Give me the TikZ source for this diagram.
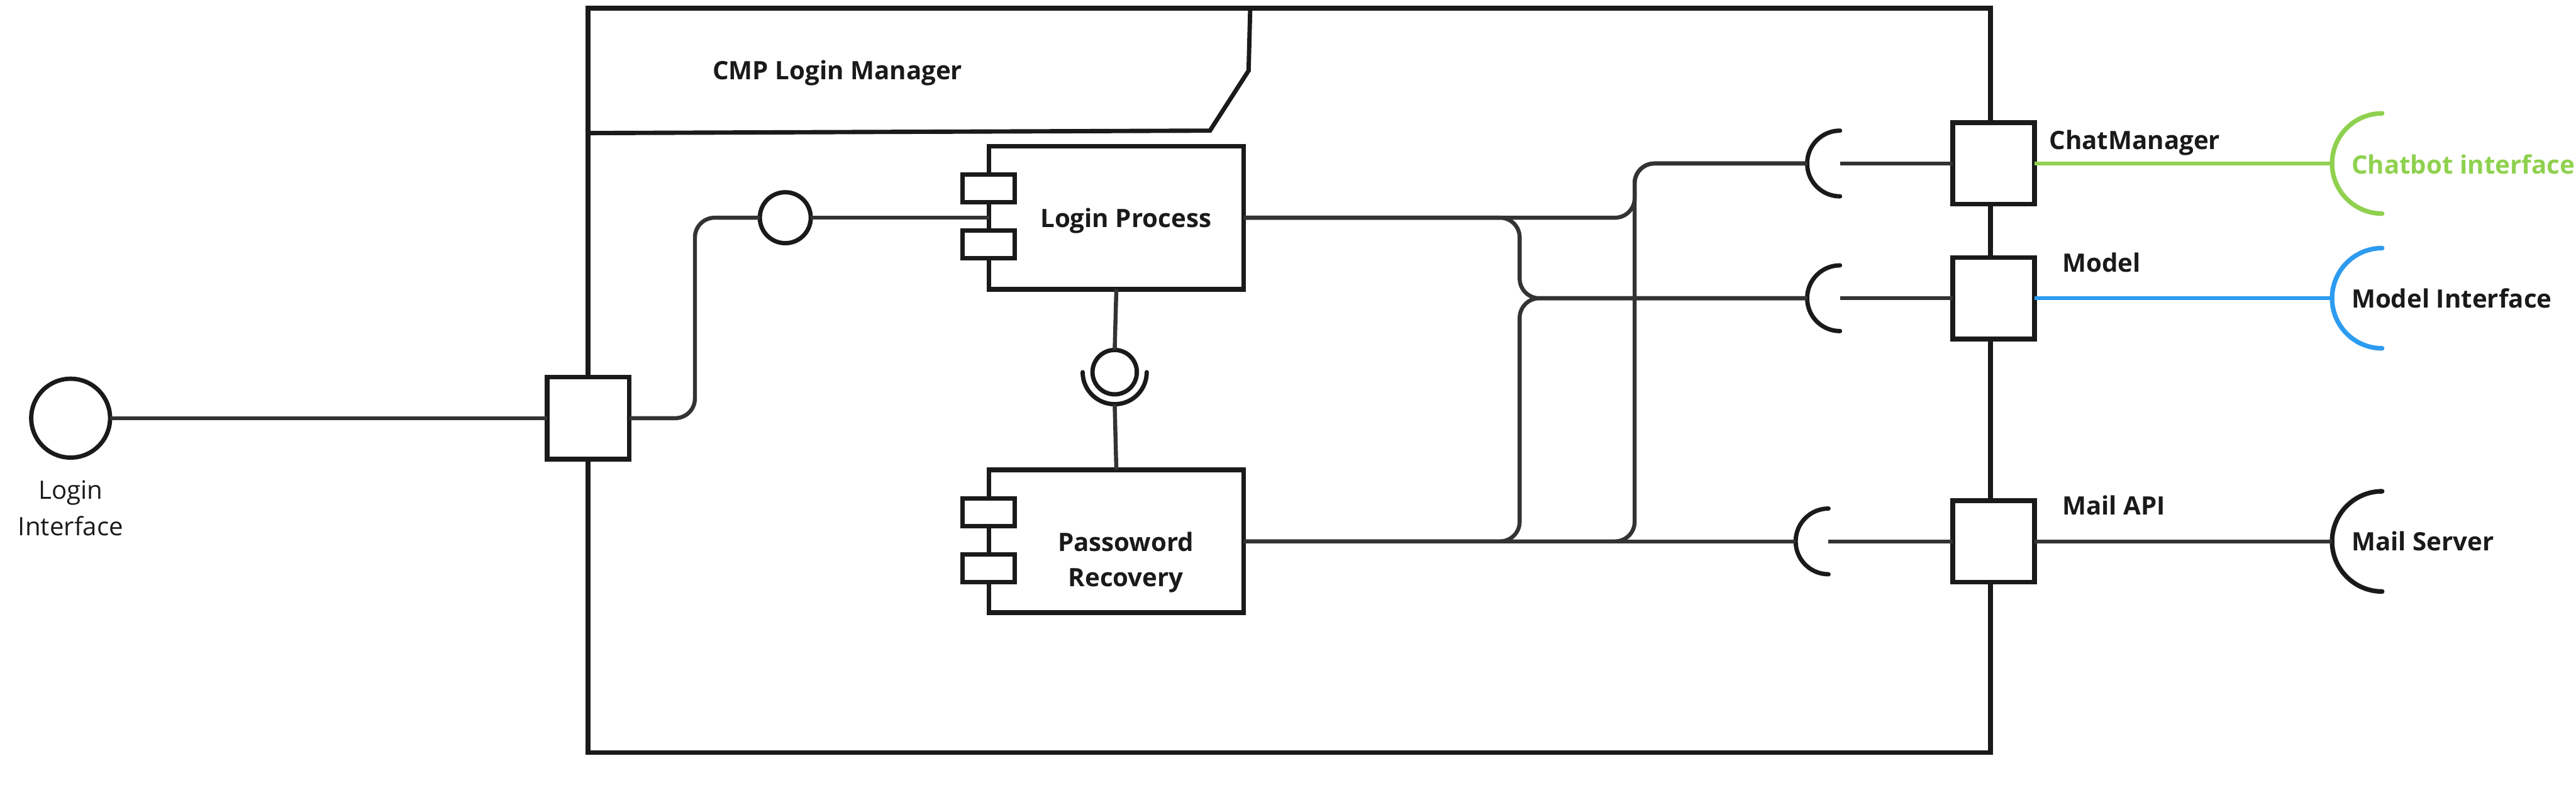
\documentclass[tikz,border=0pt]{standalone}
\usepackage{fontspec}
\newfontfamily\osans{Open Sans}
\definecolor{dk}{HTML}{1A1A1A}
\definecolor{wr}{HTML}{333333}
\definecolor{grn}{HTML}{8FD14F}
\definecolor{blu}{HTML}{2D9BF0}
\begin{document}
\begin{tikzpicture}[x=0.2mm,y=-0.2mm,
  box/.style={draw=dk,line width=1.7pt,fill=white,inner sep=0pt,outer sep=0pt},
  port/.style={box,minimum size=49.5*0.2mm},
  comp/.style={box,minimum width=155*0.2mm,minimum height=87*0.2mm},
  tab/.style={box,line width=1.5pt,minimum width=31.5*0.2mm,minimum height=16.8*0.2mm},
  ring/.style={circle,draw=dk,line width=1.5pt,fill=white,inner sep=0pt,outer sep=0pt},
  wire/.style={draw=wr,line width=1.4pt,rounded corners=2.4mm},
  sock/.style={draw=dk,line width=1.5pt,line cap=round},
  lbl/.style={font=\osans\bfseries\fontsize{8.77pt}{12.2pt}\selectfont,inner sep=0pt,text=dk},
  rlbl/.style={font=\osans\fontsize{8.77pt}{12.2pt}\selectfont,inner sep=0pt,text=dk}]
\useasboundingbox (0,0) rectangle (1568,480.7);

% container
\node[box,fill=none,minimum width=853.5*0.2mm,minimum height=453*0.2mm] (main) at (784.75,231.5) {};
\draw[draw=dk,line width=1.5pt,line join=miter] (358,81) -- (736.5,79.5) -- (760,43) -- (761,5);
\node[lbl,anchor=base west] (tCMP) at (433.5,48.6) {CMP Login Manager};

% components
\node[comp] (LP) at (679.5,132.5) {};
\node[tab] (LPa) at (601.75,114.7) {};
\node[tab] (LPb) at (601.75,148.75) {};
\node[lbl,anchor=base] (tLP) at (685.3,138.5) {Login Process};

\node[comp] (PR) at (679.5,329.5) {};
\node[tab] (PRa) at (601.75,311.7) {};
\node[tab] (PRb) at (601.75,345.75) {};
\node[lbl,anchor=base] (tPR1) at (685.3,335.6) {Passoword};
\node[lbl,anchor=base] (tPR2) at (685.3,357) {Recovery};

% left side
\node[ring,minimum size=48*0.2mm] (li) at (43,254.5) {};
\node[rlbl,anchor=base] (tLI1) at (43,303.9) {Login};
\node[rlbl,anchor=base] (tLI2) at (43,325.8) {Interface};
\node[port,minimum size=50*0.2mm] (lport) at (358,254.5) {};
\node[ring,minimum size=31*0.2mm] (lol) at (478,132.5) {};

% ball and socket
\node[ring,minimum size=27*0.2mm] (ball) at (678.5,226.5) {};
\draw[sock] (ball.center) ++(-19.5,0) arc[start angle=180,end angle=0,radius=19.5];
\coordinate (sockB) at (678.5,246);

% right ports
\node[port] (pC) at (1213.5,99.5) {};
\node[port] (pM) at (1213.5,181.5) {};
\node[port] (pA) at (1213.5,329.5) {};
\node[lbl,anchor=base west] (tCM) at (1247,90.9) {ChatManager};
\node[lbl,anchor=base west] (tMo) at (1255,165.4) {Model};
\node[lbl,anchor=base west] (tMA) at (1255,313.3) {Mail API};

% internal required sockets
\coordinate (sC) at (1120,99.5);
\coordinate (sM) at (1120,181.5);
\coordinate (sA) at (1113,329.5);
\coordinate (sCl) at (1100,99.5);
\coordinate (sMl) at (1100,181.5);
\coordinate (sAl) at (1093,329.5);
\draw[sock] (sC) ++(0,-20) arc[start angle=270,end angle=90,radius=20];
\draw[sock] (sM) ++(0,-20) arc[start angle=270,end angle=90,radius=20];
\draw[sock] (sA) ++(0,-20) arc[start angle=270,end angle=90,radius=20];

% external sockets
\coordinate (eC) at (1450,99.5);
\coordinate (eM) at (1450,181.5);
\coordinate (eA) at (1450,329.5);
\coordinate (eCl) at (1419.5,99.5);
\coordinate (eMl) at (1419.5,181.5);
\coordinate (eAl) at (1419.5,329.5);
\draw[sock,draw=grn,line width=1.6pt] (eC) ++(0,-30.5) arc[start angle=270,end angle=90,radius=30.5];
\draw[sock,draw=blu,line width=1.6pt] (eM) ++(0,-30.5) arc[start angle=270,end angle=90,radius=30.5];
\draw[sock,line width=1.6pt] (eA) ++(0,-30.5) arc[start angle=270,end angle=90,radius=30.5];
\node[lbl,anchor=base west,text=grn] (tCI) at (1431,105.7) {Chatbot interface};
\node[lbl,anchor=base west] (tMI) at (1431,187.2) {Model Interface};
\node[lbl,anchor=base west] (tMS) at (1431,335) {Mail Server};

% wires
\draw[wire] (li) -- (lport);
\draw[wire] (lport.east) -- (423,254.5) -- (423,132.5) -- (lol.west);
\draw[wire] (lol.east) -- (LP.west);
\draw[wire,rounded corners=0pt] (LP.south) -- (ball.north);
\draw[wire,rounded corners=0pt] (sockB) -- (PR.north);
\draw[wire] (LP.east) -- (995,132.5) -- (995,99.5) -- (sCl);
\draw[wire] (LP.east) -- (925,132.5) -- (925,181.5) -- (sMl);
\draw[wire] (PR.east) -- (925,329.5) -- (925,181.5) -- (sMl);
\draw[wire] (PR.east) -- (995,329.5) -- (995,99.5) -- (sCl);
\draw[wire] (PR.east) -- (sAl);
\draw[wire] (sC) -- (pC.west);
\draw[wire] (sM) -- (pM.west);
\draw[wire] (sA) -- (pA.west);
\draw[wire,draw=grn] (pC.east) -- (eCl);
\draw[wire,draw=blu] (pM.east) -- (eMl);
\draw[wire] (pA.east) -- (eAl);
\end{tikzpicture}
\end{document}
